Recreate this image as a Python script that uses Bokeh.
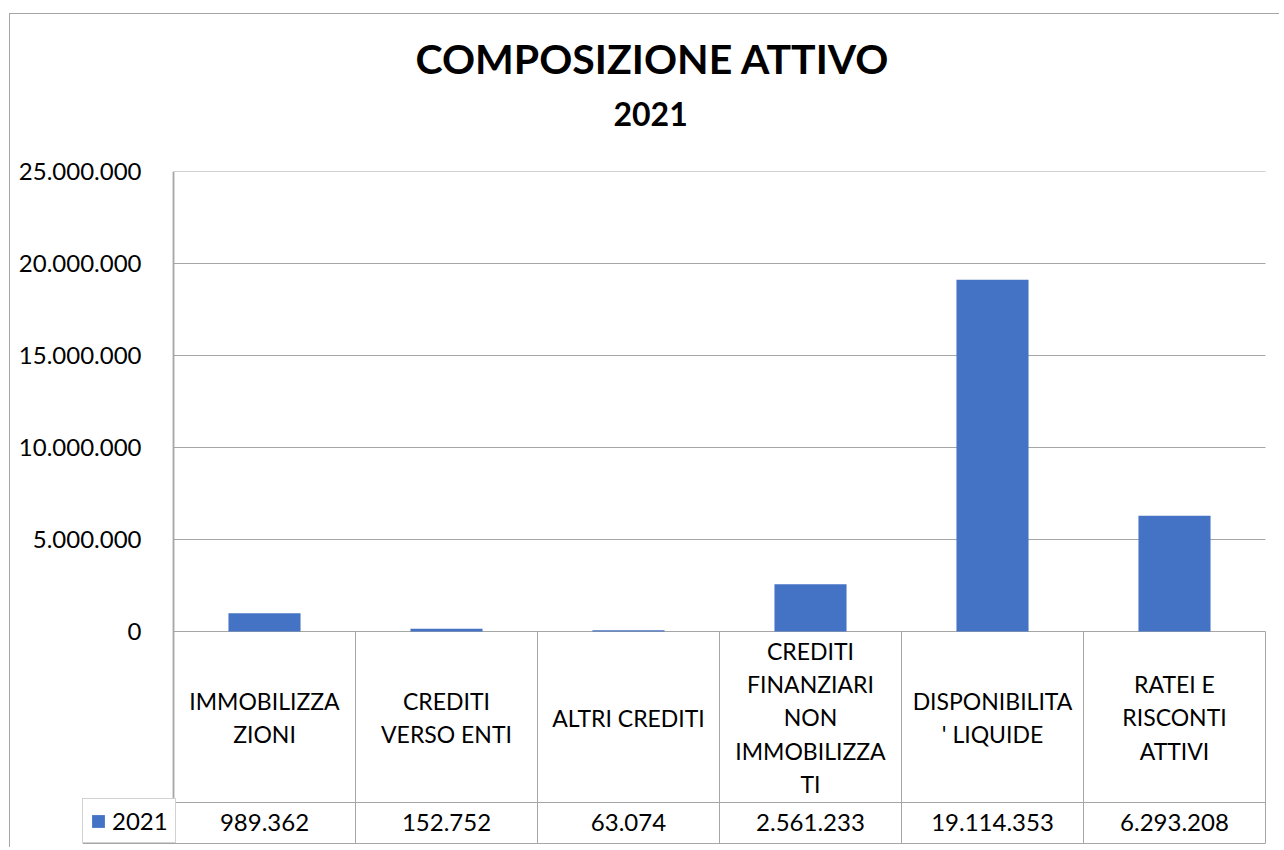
from bokeh.plotting import figure
from bokeh.models import Range1d, FixedTicker, Legend, LegendItem, Title
from bokeh.core.properties import value
from bokeh.embed import file_html
from bokeh.resources import INLINE

# ---- data ----
categories = [
    "IMMOBILIZZA\nZIONI",
    "CREDITI\nVERSO ENTI",
    "ALTRI CREDITI",
    "CREDITI\nFINANZIARI\nNON\nIMMOBILIZZA\nTI",
    "DISPONIBILITA\n' LIQUIDE",
    "RATEI E\nRISCONTI\nATTIVI",
]
values_2021 = [989362, 152752, 63074, 2561233, 19114353, 6293208]
series_name = "2021"
y_ticks = [0, 5000000, 10000000, 15000000, 20000000, 25000000]
y_tick_labels = ["0", "5.000.000", "10.000.000", "15.000.000", "20.000.000", "25.000.000"]
title_text = "COMPOSIZIONE ATTIVO"
subtitle_text = "2021"

value_labels = [f"{v:,}".replace(",", ".") for v in values_2021]

# ---- layout geometry (pixels, relative to the figure content box) ----
W, H = 1270, 834
FRAME_L, FRAME_T, FRAME_R = 72, 157, 1258
COL_PX = 182.0
LEG_PX = 91.0                    # width of the legend cell left of the plot area
PLOT_PX = 460.0                  # height of 0..25M
ZERO_PX = FRAME_T + PLOT_PX      # pixel row of the zero line
per_px = y_ticks[-1] / PLOT_PX
n = len(categories)

y_start = -(H - ZERO_PX) * per_px
row_y = -171 * per_px
bottom_y = -212 * per_px
cat_y = -86 * per_px
val_y = -191 * per_px

FONT = "Lato"
GRAY = "#a6a6a6"
BLUE = "#4472C4"

p = figure(
    width=W, height=H,
    output_backend="svg", toolbar_location=None,
    x_range=Range1d(-LEG_PX / COL_PX, (FRAME_R - FRAME_L - LEG_PX) / COL_PX),
    y_range=Range1d(y_start, y_ticks[-1]),
    min_border_left=FRAME_L, min_border_top=FRAME_T,
    min_border_right=W - FRAME_R, min_border_bottom=0,
    margin=(13, 0, 0, 9),
    styles={"border-left": "1px solid " + GRAY, "border-top": "1px solid " + GRAY},
)
p.outline_line_color = None
p.xaxis.visible = False
p.xgrid.visible = False
p.ygrid.visible = False

# y axis: labels only, pulled right so they end just left of the plot area
p.yaxis.ticker = FixedTicker(ticks=y_ticks)
p.yaxis.major_label_overrides = {t: l for t, l in zip(y_ticks, y_tick_labels)}
p.yaxis.axis_line_color = None
p.yaxis.major_tick_line_color = None
p.yaxis.minor_tick_line_color = None
p.yaxis.major_label_standoff = -(int(LEG_PX) - 26)
p.yaxis.major_label_text_font = FONT
p.yaxis.major_label_text_font_size = "24px"
p.yaxis.major_label_text_color = "black"

# gridlines and value-axis line (plot area only)
p.segment(x0=[0] * len(y_ticks), y0=y_ticks, x1=[n] * len(y_ticks), y1=y_ticks,
          line_color=GRAY, line_width=1)
p.segment(x0=[0], y0=[y_ticks[-1]], x1=[0], y1=[bottom_y], line_color=GRAY, line_width=1.8)

# titles (left-aligned with offsets so they sit centred on the chart area)
p.add_layout(Title(text=subtitle_text, align="left", text_font=FONT, text_font_size="32px",
                   text_font_style="bold", text_color="black", standoff=92, offset=531), "above")
p.add_layout(Title(text=title_text, align="left", text_font=FONT, text_font_size="41px",
                   text_font_style="bold", text_color="black", standoff=-59, offset=333), "above")

xs = [i + 0.5 for i in range(n)]
bars = p.vbar(x=xs, top=values_2021, width=0.396, fill_color=BLUE, line_color=None)

# data table under the plot
vx = list(range(1, n + 1))
p.segment(x0=vx, y0=[0] * n, x1=vx, y1=[bottom_y] * n, line_color=GRAY, line_width=1)
p.segment(x0=[0, -LEG_PX / COL_PX], y0=[row_y, bottom_y], x1=[n, n], y1=[row_y, bottom_y],
          line_color=GRAY, line_width=1)
p.text(x=xs, y=[cat_y] * n, text=categories, text_align="center", text_baseline="middle",
       text_font=value(FONT), text_font_size="23px", text_color="black", text_line_height=1.19)
p.text(x=xs, y=[val_y] * n, text=value_labels, text_align="center", text_baseline="middle",
       text_font=value(FONT), text_font_size="24px", text_color="black")

legend = Legend(items=[LegendItem(label=series_name, renderers=[bars])], location=(0, H - ZERO_PX - 212),
                border_line_color=GRAY, border_line_width=1, background_fill_color="white",
                background_fill_alpha=1, padding=7, spacing=0, margin=0,
                glyph_width=16, glyph_height=16, label_standoff=6,
                label_text_font=FONT, label_text_font_size="24px", label_text_color="black")
p.add_layout(legend)

open("out.html", "w").write(file_html(p, INLINE))
